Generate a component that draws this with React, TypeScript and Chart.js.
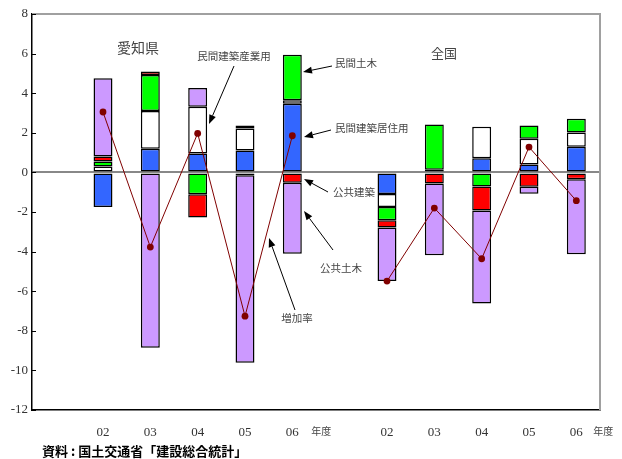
import React, { useEffect, useRef } from 'react';
import { Chart, registerables } from 'chart.js';

Chart.register(...registerables);

// Fiscal years (blank slots separate Aichi and national groups)
const categories = ['', '02', '03', '04', '05', '06', '', '02', '03', '04', '05', '06'];

// Contributions (percentage points)
const privateResidential = [null, -1.75, 1.2, 0.95, 1.1, 3.47, null, -1.09, 0.05, 0.71, 0.4, 1.3];
const privateIndustrial = [null, 0.3, 1.9, 2.37, 1.12, 0.17, null, -0.66, 0.08, 1.6, 1.3, 0.72];
const privateCivil = [null, 0.25, 1.82, -1.1, 0.15, 2.3, null, -0.67, 2.29, -0.71, 0.67, 0.69];
const publicBuilding = [null, 0.25, 0.17, -1.18, -0.15, -0.52, null, -0.36, -0.56, -1.21, -0.72, -0.35];
const publicCivil = [null, 3.96, -8.85, 0.94, -9.46, -3.59, null, -2.71, -3.63, -4.7, -0.36, -3.79];
const growthRate = [null, 3.05, -3.77, 1.97, -7.26, 1.85, null, -5.49, -1.8, -4.36, 1.28, -1.43];

const seriesNames = ['民間建築居住用', '民間建築産業用', '民間土木', '公共建築', '公共土木'];
const lineName = '増加率';

const JP = '"Noto Sans CJK JP", "Noto Sans", sans-serif';
const SERIF = '"Liberation Serif", "DejaVu Serif", serif';

function arrow(ctx: CanvasRenderingContext2D, x1: number, y1: number, x2: number, y2: number) {
  ctx.save();
  ctx.strokeStyle = '#000';
  ctx.fillStyle = '#000';
  ctx.lineWidth = 1;
  const ang = Math.atan2(y2 - y1, x2 - x1);
  const len = 9;
  const hw = 3.5;
  const bx = x2 - len * Math.cos(ang);
  const by = y2 - len * Math.sin(ang);
  ctx.beginPath();
  ctx.moveTo(x1, y1);
  ctx.lineTo(bx, by);
  ctx.stroke();
  ctx.beginPath();
  ctx.moveTo(x2, y2);
  ctx.lineTo(bx + hw * Math.sin(ang), by - hw * Math.cos(ang));
  ctx.lineTo(bx - hw * Math.sin(ang), by + hw * Math.cos(ang));
  ctx.closePath();
  ctx.fill();
  ctx.restore();
}

function text(ctx: CanvasRenderingContext2D, s: string, x: number, y: number, font: string, color = '#444', align: CanvasTextAlign = 'center') {
  ctx.save();
  ctx.font = font;
  ctx.fillStyle = color;
  ctx.textAlign = align;
  ctx.textBaseline = 'middle';
  ctx.fillText(s, x, y);
  ctx.restore();
}

const decorPlugin = {
  id: 'decor',
  afterDraw(chart: any) {
    const ctx: CanvasRenderingContext2D = chart.ctx;
    const { left, right, top, bottom } = chart.chartArea;
    const y = chart.scales.y;
    const x = chart.scales.x;
    // top / right frame
    ctx.save();
    ctx.strokeStyle = '#a0a0a0';
    ctx.lineWidth = 2;
    ctx.beginPath();
    ctx.moveTo(left, top);
    ctx.lineTo(right, top);
    ctx.lineTo(right, bottom);
    ctx.stroke();
    // inner tick marks
    ctx.strokeStyle = '#000';
    ctx.lineWidth = 1;
    y.ticks.forEach((t: any) => {
      const py = Math.round(y.getPixelForValue(t.value)) + 0.5;
      ctx.beginPath();
      ctx.moveTo(left, py);
      ctx.lineTo(left + 4, py);
      ctx.stroke();
    });
    ctx.restore();

    // year unit labels
    const ly = bottom + 21;
    text(ctx, '年度', x.getPixelForValue(5) + 29, ly, `10px ${JP}`, '#444');
    text(ctx, '年度', x.getPixelForValue(11) + 27, ly, `10px ${JP}`, '#444');

    // group titles
    text(ctx, '愛知県', 138, 48, `14px ${JP}`, '#444');
    text(ctx, '全国', 444, 53, `13px ${JP}`, '#444');

    const f = `10.5px ${JP}`;
    text(ctx, seriesNames[1], 234, 56, f);
    arrow(ctx, 234, 66, 209, 124);
    text(ctx, seriesNames[2], 335, 63, f, '#444', 'left');
    arrow(ctx, 332, 66, 303, 72);
    text(ctx, seriesNames[0], 335, 128, f, '#444', 'left');
    arrow(ctx, 331, 130, 304, 137);
    text(ctx, seriesNames[3], 333, 192, f, '#444', 'left');
    arrow(ctx, 328, 192, 304, 179);
    text(ctx, seriesNames[4], 320, 268, f, '#444', 'left');
    arrow(ctx, 333, 250, 304, 211);
    text(ctx, lineName, 297, 318, f);
    arrow(ctx, 295, 310, 269, 238);

    // source
    text(ctx, '資料 : 国土交通省「建設総合統計」', 42, 451, `bold 13px ${JP}`, '#000', 'left');
  },
};

export default function App() {
  const ref = useRef<HTMLCanvasElement>(null);
  useEffect(() => {
    const canvas = ref.current;
    if (!canvas) return;
    const colors = ['#3366ff', '#ffffff', '#00ff00', '#ff0000', '#cc99ff'];
    const barData = [privateResidential, privateIndustrial, privateCivil, publicBuilding, publicCivil];
    const datasets: any[] = barData.map((d, i) => ({
      type: 'bar',
      label: seriesNames[i],
      data: d,
      backgroundColor: colors[i],
      borderColor: '#000',
      borderWidth: 1.5,
      borderSkipped: false,
      stack: 'bars',
      order: 1,
      categoryPercentage: 0.5,
      barPercentage: 0.8,
    }));
    datasets.push({
      type: 'line',
      label: lineName,
      data: growthRate,
      borderColor: '#800000',
      backgroundColor: '#800000',
      borderWidth: 1,
      pointRadius: 3.4,
      pointBorderWidth: 0,
      pointBackgroundColor: '#800000',
      spanGaps: false,
      stack: 'line',
      order: 0,
    });
    const chart = new Chart(canvas, {
      type: 'bar',
      data: { labels: categories, datasets },
      options: {
        animation: false,
        responsive: false,
        layout: { padding: { top: 14, right: 22, left: 0, bottom: 0 } },
        plugins: { legend: { display: false }, tooltip: { enabled: false } },
        scales: {
          x: {
            stacked: true,
            grid: { display: false, drawTicks: false },
            border: { display: true, color: '#000', width: 1.5 },
            ticks: { color: '#333', font: { family: SERIF, size: 13 }, padding: 15, maxRotation: 0, autoSkip: false },
            afterFit: (s: any) => { s.height = 49; },
          },
          y: {
            stacked: true,
            min: -12,
            max: 8,
            ticks: { stepSize: 2, color: '#333', font: { family: SERIF, size: 13 }, padding: 4 },
            grid: {
              drawTicks: false,
              color: (c: any) => (c.tick && c.tick.value === 0 ? '#888' : 'rgba(0,0,0,0)'),
              lineWidth: 2,
            },
            border: { display: true, color: '#000', width: 1.5 },
            afterFit: (s: any) => { s.width = 32; },
          },
        },
      },
      plugins: [decorPlugin],
    } as any);
    return () => chart.destroy();
  }, []);
  return (
    <div style={{ position: 'absolute', left: 0, top: 0, width: 622, height: 459, background: '#fff' }}>
      <canvas ref={ref} width={622} height={459} style={{ display: 'block' }} />
    </div>
  );
}
